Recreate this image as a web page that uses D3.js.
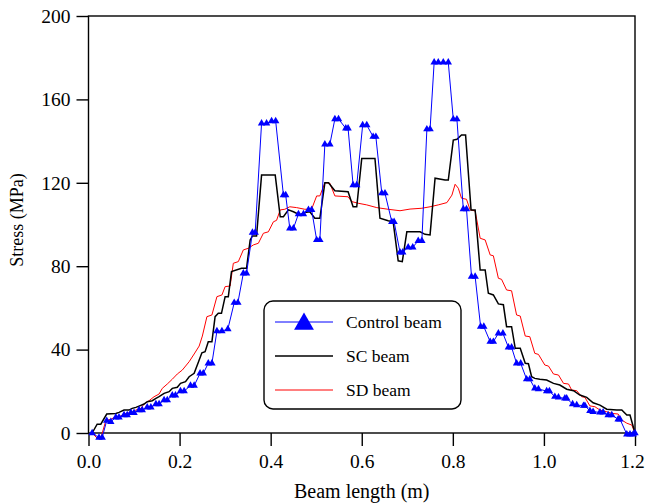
<!DOCTYPE html>
<html><head><meta charset="utf-8">
<script src="https://cdn.jsdelivr.net/npm/d3@7"></script>
<style>
body{margin:0;background:#fff}
svg{display:block}
svg text{fill:#000}
</style>
</head><body>
<svg id="c" width="646" height="503"></svg>
<script>
// ---- data (x in m, stress in MPa) ----
const controlBeam = [[0.008,0],[0.023,-2.2],[0.030,-2.2],[0.040,5.9],[0.049,5.4],[0.060,7.5],[0.067,7.5],[0.078,8.6],[0.085,8.6],[0.093,9.7],[0.100,9.7],[0.111,11.0],[0.118,11.0],[0.129,12.3],[0.137,12.3],[0.148,13.9],[0.155,13.9],[0.166,15.8],[0.173,15.8],[0.184,18.1],[0.191,18.1],[0.202,20.1],[0.210,20.1],[0.224,22.7],[0.232,22.7],[0.245,28.6],[0.252,28.6],[0.263,33.4],[0.271,33.4],[0.282,48.9],[0.293,48.9],[0.306,49.8],[0.320,62.5],[0.328,62.5],[0.340,76.6],[0.347,76.6],[0.360,96.1],[0.366,96.1],[0.380,148.5],[0.391,148.5],[0.402,149.6],[0.411,149.6],[0.428,114.1],[0.433,114.1],[0.442,98.2],[0.450,98.2],[0.461,105.0],[0.472,105.0],[0.483,107.0],[0.490,107.0],[0.501,92.6],[0.508,92.6],[0.519,138.5],[0.530,138.5],[0.541,150.6],[0.549,150.6],[0.565,146.1],[0.570,146.1],[0.581,118.9],[0.589,118.9],[0.602,147.7],[0.611,147.7],[0.625,142.1],[0.631,142.1],[0.644,115.0],[0.651,115.0],[0.666,101.3],[0.671,101.3],[0.684,86.7],[0.690,86.7],[0.702,89.1],[0.712,89.1],[0.724,92.2],[0.732,92.2],[0.743,145.7],[0.750,145.7],[0.759,177.8],[0.768,177.8],[0.779,177.8],[0.790,177.8],[0.801,150.5],[0.809,150.5],[0.823,107.4],[0.830,107.4],[0.841,75.0],[0.849,75.0],[0.861,51.0],[0.868,51.0],[0.882,43.8],[0.889,43.8],[0.900,47.8],[0.910,47.8],[0.922,41.1],[0.929,41.1],[0.940,33.4],[0.949,33.4],[0.962,25.8],[0.969,25.8],[0.980,21.4],[0.988,21.1],[1.006,20.1],[1.012,20.1],[1.024,17.4],[1.032,17.1],[1.046,16.6],[1.050,16.6],[1.063,13.9],[1.072,13.4],[1.087,13.1],[1.090,13.1],[1.101,10.6],[1.108,10.2],[1.123,9.9],[1.130,9.9],[1.141,8.6],[1.149,8.6],[1.163,6.6],[1.167,6.6],[1.182,-0.6],[1.189,-0.6],[1.196,-0.6],[1.200,0]];

const scBeam = [[0.008,0],[0.019,4.2],[0.027,4.2],[0.040,9.1],[0.060,9.4],[0.067,9.9],[0.078,11.0],[0.089,11.0],[0.096,11.8],[0.104,12.3],[0.111,12.9],[0.122,13.9],[0.129,15.0],[0.140,15.5],[0.148,16.6],[0.155,17.4],[0.166,19.0],[0.177,19.8],[0.184,21.4],[0.195,21.9],[0.202,23.8],[0.213,24.6],[0.221,27.0],[0.232,28.6],[0.241,33.8],[0.249,38.5],[0.256,39.0],[0.263,43.8],[0.271,43.8],[0.278,55.8],[0.285,57.4],[0.292,57.4],[0.300,65.4],[0.307,65.4],[0.314,77.4],[0.336,79.0],[0.347,79.0],[0.355,92.6],[0.360,94.5],[0.369,94.5],[0.380,123.7],[0.410,123.7],[0.421,103.7],[0.428,103.7],[0.439,107.0],[0.450,106.1],[0.464,104.6],[0.475,105.8],[0.486,106.1],[0.497,103.0],[0.508,103.0],[0.519,120.0],[0.527,120.0],[0.541,116.2],[0.570,115.7],[0.581,108.5],[0.589,108.5],[0.600,131.7],[0.629,131.7],[0.640,103.0],[0.658,101.8],[0.669,101.3],[0.680,82.6],[0.689,82.2],[0.699,96.5],[0.728,96.5],[0.739,95.3],[0.750,95.0],[0.761,122.2],[0.783,121.3],[0.790,121.3],[0.801,140.5],[0.809,140.9],[0.819,142.9],[0.828,142.9],[0.840,107.0],[0.849,107.0],[0.860,78.2],[0.871,78.2],[0.878,67.0],[0.889,66.2],[0.900,61.9],[0.911,61.5],[0.918,51.0],[0.929,51.0],[0.937,40.6],[0.948,40.6],[0.959,33.4],[0.966,33.2],[0.973,27.0],[0.980,26.2],[0.991,25.8],[1.006,25.4],[1.021,23.8],[1.035,23.0],[1.050,21.0],[1.065,20.3],[1.079,18.2],[1.094,17.1],[1.108,14.5],[1.123,13.4],[1.138,11.4],[1.160,11.0],[1.171,11.0],[1.182,8.6],[1.189,8.6],[1.200,0]];

const sdBeam = [[0.008,0],[0.019,-2.5],[0.027,-2.5],[0.038,5.9],[0.049,6.6],[0.060,7.8],[0.071,8.2],[0.082,9.4],[0.093,9.7],[0.104,11.0],[0.115,11.8],[0.122,13.9],[0.133,15.5],[0.144,17.4],[0.155,18.7],[0.162,21.4],[0.173,23.5],[0.184,25.8],[0.195,28.3],[0.206,30.2],[0.221,34.2],[0.232,37.9],[0.243,41.7],[0.250,46.5],[0.260,55.8],[0.271,56.6],[0.282,65.4],[0.293,66.2],[0.300,70.2],[0.311,70.5],[0.318,81.4],[0.329,82.2],[0.340,87.8],[0.351,88.6],[0.362,90.2],[0.373,91.0],[0.384,95.8],[0.395,96.5],[0.406,101.3],[0.413,102.0],[0.421,107.0],[0.431,107.3],[0.442,108.5],[0.457,108.1],[0.475,107.3],[0.490,107.4],[0.501,113.7],[0.508,113.7],[0.519,120.0],[0.530,119.8],[0.541,113.7],[0.570,113.3],[0.578,111.0],[0.592,110.2],[0.611,109.4],[0.633,108.1],[0.658,107.3],[0.684,106.6],[0.706,107.4],[0.732,107.8],[0.750,108.5],[0.768,109.4],[0.787,110.5],[0.798,114.1],[0.805,119.3],[0.812,117.4],[0.819,112.6],[0.830,112.1],[0.838,107.0],[0.849,106.5],[0.860,93.4],[0.871,92.6],[0.882,85.4],[0.889,85.0],[0.900,74.2],[0.907,73.7],[0.918,68.6],[0.929,68.2],[0.940,56.6],[0.948,56.1],[0.959,46.5],[0.969,46.2],[0.980,38.2],[0.988,37.7],[1.002,32.6],[1.010,32.1],[1.021,28.3],[1.032,27.8],[1.043,23.8],[1.054,23.5],[1.061,20.6],[1.072,20.3],[1.083,17.4],[1.090,17.1],[1.101,13.0],[1.112,12.6],[1.123,11.0],[1.138,10.2],[1.149,9.4],[1.163,9.1],[1.171,6.2],[1.182,4.7],[1.193,3.8],[1.200,0]];

const xTicks = [0.0, 0.2, 0.4, 0.6, 0.8, 1.0, 1.2];
const yTicks = [0, 40, 80, 120, 160, 200];
const seriesNames = ["Control beam", "SC beam", "SD beam"];
const xTitle = "Beam length (m)";
const yTitle = "Stress (MPa)";

// ---- drawing ----
const FONT = '"Liberation Serif","Times New Roman",Times,serif';
const svg = d3.select("#c");
const P = {l: 88.5, r: 635, t: 16, b: 433};
const x = d3.scaleLinear().domain([0, 1.2]).range([P.l, P.r]);
const y = d3.scaleLinear().domain([0, 200]).range([P.b, P.t]);

const xAxis = svg.append("g").attr("transform", `translate(0,${P.b})`)
  .call(d3.axisBottom(x).tickValues(xTicks).tickFormat(d3.format(".1f")).tickSize(13).tickPadding(8));
const yAxis = svg.append("g").attr("transform", `translate(${P.l},0)`)
  .call(d3.axisLeft(y).tickValues(yTicks).tickSize(12).tickPadding(6));
[xAxis, yAxis].forEach(a => {
  a.attr("font-family", FONT).attr("font-size", 19.5);
  a.select(".domain").remove();
  a.selectAll(".tick line").attr("stroke", "#000").attr("stroke-width", 1.4);
  a.selectAll("text").attr("fill", "#000");
});
// keep the last x label inside the picture
xAxis.selectAll(".tick text").filter(d => d === 1.2).attr("dx", -3);

// frame
svg.append("rect").attr("x", P.l).attr("y", P.t).attr("width", P.r - P.l).attr("height", P.b - P.t)
  .attr("fill", "none").attr("stroke", "#000").attr("stroke-width", 1.4);

const line = d3.line().x(d => x(d[0])).y(d => y(d[1]));

svg.append("path").datum(sdBeam).attr("d", line).attr("fill", "none").attr("stroke", "#ff0000").attr("stroke-width", 1);
svg.append("path").datum(scBeam).attr("d", line).attr("fill", "none").attr("stroke", "#000").attr("stroke-width", 1.5);
svg.append("path").datum(controlBeam).attr("d", line).attr("fill", "none").attr("stroke", "#0000ff").attr("stroke-width", 1);

const tri = d3.symbol().type(d3.symbolTriangle).size(24);
svg.append("g").selectAll("path").data(controlBeam).join("path")
  .attr("d", tri).attr("transform", d => `translate(${x(d[0])},${y(d[1])})`).attr("fill", "#0000ff");

// axis titles
svg.append("text").attr("x", (P.l + P.r) / 2).attr("y", 498).attr("text-anchor", "middle")
  .attr("font-family", FONT).attr("font-size", 20).text(xTitle);
svg.append("text").attr("transform", "translate(23,220) rotate(-90)").attr("text-anchor", "middle")
  .attr("font-family", FONT).attr("font-size", 18).text(yTitle);

// legend
const lg = svg.append("g").attr("font-family", FONT);
lg.append("rect").attr("x", 264).attr("y", 301).attr("width", 197).attr("height", 108).attr("rx", 9)
  .attr("fill", "#fff").attr("stroke", "#000").attr("stroke-width", 1.4);
const rows = [322, 356, 390];
const cols = ["#0000ff", "#000", "#ff0000"];
const widths = [1, 1.5, 1];
seriesNames.forEach((n, i) => {
  lg.append("line").attr("x1", 275).attr("x2", 333).attr("y1", rows[i]).attr("y2", rows[i])
    .attr("stroke", cols[i]).attr("stroke-width", widths[i]);
  lg.append("text").attr("x", 346).attr("y", rows[i] + 6).attr("font-size", 17.5).text(n);
});
lg.append("path").attr("d", d3.symbol().type(d3.symbolTriangle).size(170)).attr("transform", `translate(304,${rows[0] + 2})`).attr("fill", "#0000ff");
</script>
</body></html>
